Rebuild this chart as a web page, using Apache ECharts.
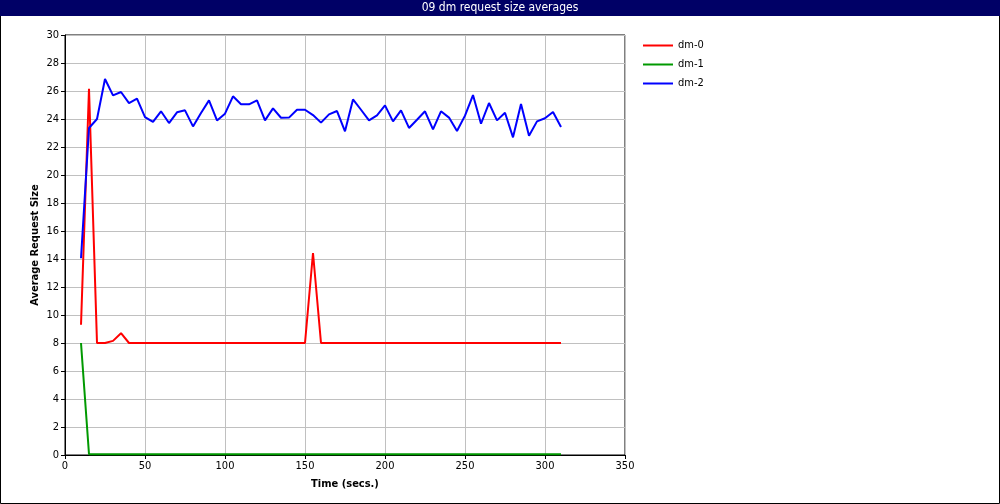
<!DOCTYPE html>
<html><head><meta charset="utf-8">
<script src="https://cdn.jsdelivr.net/npm/echarts@6/dist/echarts.min.js"></script>
<style>html,body{margin:0;padding:0;background:#fff}#c{width:1000px;height:504px}</style>
</head><body><div id="c"></div>
<script>
var times = [10,15,20,25,30,35,40,45,50,55,60,65,70,75,80,85,90,95,100,105,110,115,120,125,130,135,140,145,150,155,160,165,170,175,180,185,190,195,200,205,210,215,220,225,230,235,240,245,250,255,260,265,270,275,280,285,290,295,300,305,310];
var dm0 = [9.3,26.15,8.0,8.0,8.15,8.7,8.0,8,8,8,8,8,8,8,8,8,8,8,8,8,8,8,8,8,8,8,8,8,8,14.43,8,8,8,8,8,8,8,8,8,8,8,8,8,8,8,8,8,8,8,8,8,8,8,8,8,8,8,8,8,8,8];
var dm1 = [8.0,0.05,0.05,0.05,0.05,0.05,0.05,0.05,0.05,0.05,0.05,0.05,0.05,0.05,0.05,0.05,0.05,0.05,0.05,0.05,0.05,0.05,0.05,0.05,0.05,0.05,0.05,0.05,0.05,0.05,0.05,0.05,0.05,0.05,0.05,0.05,0.05,0.05,0.05,0.05,0.05,0.05,0.05,0.05,0.05,0.05,0.05,0.05,0.05,0.05,0.05,0.05,0.05,0.05,0.05,0.05,0.05,0.05,0.05,0.05,0.05];
var dm2 = [14.05,23.36,24.0,26.86,25.69,25.93,25.14,25.45,24.14,23.79,24.55,23.71,24.48,24.62,23.47,24.43,25.33,23.9,24.38,25.62,25.05,25.05,25.33,23.9,24.76,24.09,24.1,24.66,24.66,24.28,23.74,24.33,24.57,23.12,25.4,24.66,23.9,24.26,24.97,23.83,24.62,23.36,23.95,24.55,23.26,24.55,24.1,23.14,24.24,25.71,23.66,25.14,23.9,24.45,22.69,25.07,22.81,23.83,24.05,24.5,23.43];
var seriesNames = ['dm-0','dm-1','dm-2'];
var seriesColors = ['#ff0000','#009900','#0000ff'];
var chartTitle = '09 dm request size averages';
var xTitle = 'Time (secs.)';
var yTitle = 'Average Request Size';

function pairs(v){ return times.map(function(t,i){ return [t, v[i]]; }); }
var chart = echarts.init(document.getElementById('c'));
var font = 'DejaVu Sans Condensed, DejaVu Sans, sans-serif';
chart.setOption({
  animation:false,
  backgroundColor:'#fff',
  graphic:[
    {type:'rect', shape:{x:0.5,y:0.5,width:999,height:503}, style:{fill:'none',stroke:'#000',lineWidth:1}, z:100},
    {type:'rect', shape:{x:0,y:0,width:1000,height:16}, style:{fill:'#000066'}, z:101},
    {type:'text', x:500, y:8, style:{text:chartTitle, fill:'#fff', font:'12px '+font, align:'center', verticalAlign:'middle'}, z:102}
  ],
  grid:{left:65, top:35, width:560, height:420, show:true, borderColor:'#000', borderWidth:1, backgroundColor:'#fff'},
  legend:{orient:'vertical', left:638, top:35, itemWidth:30, itemHeight:2, itemGap:8, icon:'rect',
    textStyle:{fontFamily:font, fontSize:11, color:'#000'}, data:seriesNames},
  xAxis:{type:'value', min:0, max:350, interval:50,
    name:xTitle, nameLocation:'middle', nameGap:24, nameTextStyle:{fontFamily:font, fontSize:11, fontWeight:'bold', color:'#000'},
    axisLine:{show:true, onZero:false, lineStyle:{color:'#000'}}, axisTick:{show:true, length:4, lineStyle:{color:'#000'}},
    axisLabel:{fontFamily:font, fontSize:11, color:'#000', margin:6},
    splitLine:{show:true, lineStyle:{color:'#c0c0c0', width:1}}},
  yAxis:{type:'value', min:0, max:30, interval:2,
    name:yTitle, nameLocation:'middle', nameGap:24, nameMoveOverlap:false, nameTextStyle:{fontFamily:font, fontSize:11, fontWeight:'bold', color:'#000'},
    axisLine:{show:true, lineStyle:{color:'#000'}}, axisTick:{show:true, length:4, lineStyle:{color:'#000'}},
    axisLabel:{fontFamily:font, fontSize:11, color:'#000', margin:6},
    splitLine:{show:true, lineStyle:{color:'#c0c0c0', width:1}}},
  series:[dm0,dm1,dm2].map(function(v,i){
    return {name:seriesNames[i], type:'line', data:pairs(v), showSymbol:false, symbol:'none',
      lineStyle:{color:seriesColors[i], width:2}, itemStyle:{color:seriesColors[i]}};
  })
});
</script></body></html>
